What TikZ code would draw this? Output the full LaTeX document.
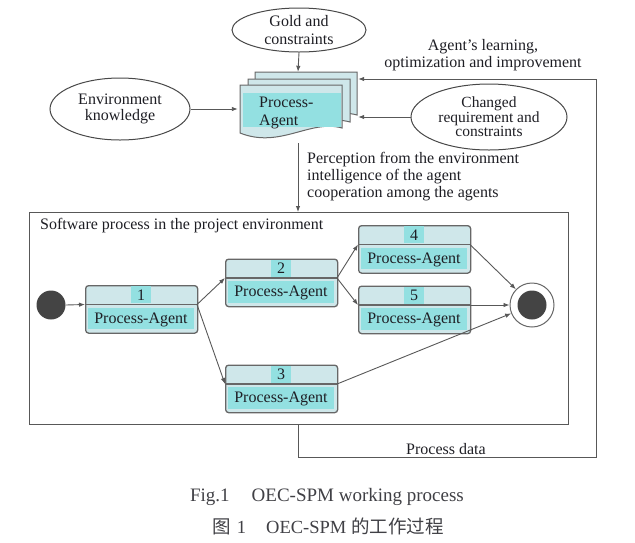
\documentclass[tikz,border=0pt]{standalone}
\usepackage{fontspec}
\setmainfont{Liberation Serif}
\newfontfamily\cjk{Noto Sans CJK SC}
\usetikzlibrary{shapes.geometric,arrows.meta}

\definecolor{boxfill}{HTML}{CFE7EA}
\definecolor{tealhl}{HTML}{93E0E1}
\definecolor{edge}{HTML}{676767}
\definecolor{ink}{HTML}{1E1E24}
\definecolor{darkdot}{HTML}{444444}

\tikzset{
  conn/.style={draw=edge!85!black, line width=0.9pt, -{Latex[length=6pt,width=4.5pt]}},
  plain/.style={draw=edge!85!black, line width=0.9pt},
  txt/.style={font=\fontsize{16}{17}\selectfont, text=ink, inner sep=0pt},
  oval/.style={ellipse, draw=edge!70!black, line width=1pt, fill=white, align=center, inner sep=0pt, text=ink},
  boxouter/.style={rectangle, rounded corners=3pt, draw=edge, line width=1.3pt, fill=boxfill, minimum width=112pt, minimum height=47.5pt, inner sep=0pt},
  numhl/.style={fill=tealhl, minimum width=20pt, minimum height=17pt, inner sep=0pt, font=\fontsize{16}{16}\selectfont, text=ink},
  sheet/.style={draw=edge, line width=1pt, fill=boxfill},
}

\newcommand\procagent[4]{% #1 name, #2 left x, #3 divider y, #4 number
  \node[boxouter, anchor=north west] (#1) at (#2,#3-19.5) {};
  \fill[tealhl] (#2+3,#3+3) rectangle (#2+109,#3+24.5);
  \draw[draw=edge, line width=1.1pt] (#2,#3) -- (#2+112,#3);
  \node[numhl] (#1n) at (#2+56,#3-9.75) {#4};
  \node[txt] (#1t) at (#2+56,#3+15) {Process-Agent};
  \coordinate (#1w) at (#2,#3);
  \coordinate (#1e) at (#2+112,#3);
}

\newcommand\docsheet[2]{%
  \draw[sheet] (#1,#2) -- (#1+102,#2) -- (#1+102,#2+43)
    .. controls (#1+70,#2+34) and (#1+40,#2+64) .. (#1,#2+48) -- cycle;
}

\begin{document}
\begin{tikzpicture}[x=1pt,y=-1pt]
\useasboundingbox (0,0) rectangle (635,542);

% ellipses
\node[oval, minimum width=134pt, minimum height=44pt, font=\fontsize{16}{18}\selectfont] (gold) at (299,30) {Gold and\\constraints};
\node[oval, minimum width=140pt, minimum height=62pt, font=\fontsize{16}{16}\selectfont] (env) at (120,109) {Environment\\knowledge};
\node[oval, minimum width=156pt, minimum height=66pt, font=\fontsize{15.5}{14.5}\selectfont] (chg) at (489,117) {Changed\\requirement and\\constraints};

% document stack
\node[minimum width=120pt, minimum height=71pt, inner sep=0pt] (doc) at (298,107.5) {};
\docsheet{255}{72}
\docsheet{248}{79}
\docsheet{240}{85}
\fill[tealhl] (243,93) rectangle (341,127);
\node[txt, anchor=north west, align=left, font=\fontsize{16}{18}\selectfont] (doct) at (259,97) {Process-\\Agent};

% arrows to document
\draw[conn] (gold.south) -- (doc.north);
\draw[conn] (env.east) -- (doc.west |- env.east);
\draw[conn] (chg.west) -- (doc.east |- chg.west);

% texts
\node[txt, align=center] (learn) at (483,55) {Agent's learning,\\optimization and improvement};
\node[txt, align=left, anchor=north west] (perc) at (307,152) {Perception from the environment\\intelligence of the agent\\cooperation among the agents};

% software process box
\node[draw=edge!85!black, line width=1pt, minimum width=539pt, minimum height=212pt, inner sep=0pt, anchor=north west] (sp) at (29,212) {};
\node[txt, anchor=north west] (sptitle) at (40,218) {Software process in the project environment};

\draw[conn] (doc.south) -- (doc.south |- sp.north);

% feedback loop
\coordinate (fbL) at (298,457);
\coordinate (fbR) at (596,457);
\coordinate (fbT) at (596,79);
\draw[conn] (sp.south -| doc.south) -- (fbL) -- (fbR) -- (fbT) -- (fbT -| doc.east);
\node[txt] (pdata) at (446,449) {Process data};

% start / end
\node[circle, fill=darkdot, minimum size=29pt, inner sep=0pt] (start) at (51,305) {};
\node[circle, draw=edge, line width=1pt, fill=white, minimum size=44pt, inner sep=0pt] (end) at (532,305) {};
\fill[darkdot] (end.center) circle (14.5);

% process agents
\procagent{b1}{85}{304.5}{1}
\procagent{b2}{225}{278}{2}
\procagent{b3}{225}{384}{3}
\procagent{b4}{358}{244.5}{4}
\procagent{b5}{358}{305}{5}

% connectors
\draw[conn] (start.east) -- (b1w);
\draw[conn] (b1e) -- (b2w);
\draw[conn] (b1e) -- (b3w);
\draw[conn] (b2e) -- (b4w);
\draw[conn] (b2e) -- (b5w);
\draw[conn] (b4e) -- (end);
\draw[conn] (b5e) -- (end);
\draw[conn] (b3e) -- (end);

% captions
\node[txt, text=ink!85, font=\fontsize{19}{20}\selectfont] (cap1) at (327,497) {Fig.1\hspace{22pt}OEC-SPM working process};
\node[txt, text=ink!85, font=\fontsize{18.5}{20}\selectfont] (cap2) at (328,526) {{\cjk 图}\hspace{6pt}1\hspace{20pt}OEC-SPM {\cjk 的工作过程}};
\end{tikzpicture}
\end{document}
